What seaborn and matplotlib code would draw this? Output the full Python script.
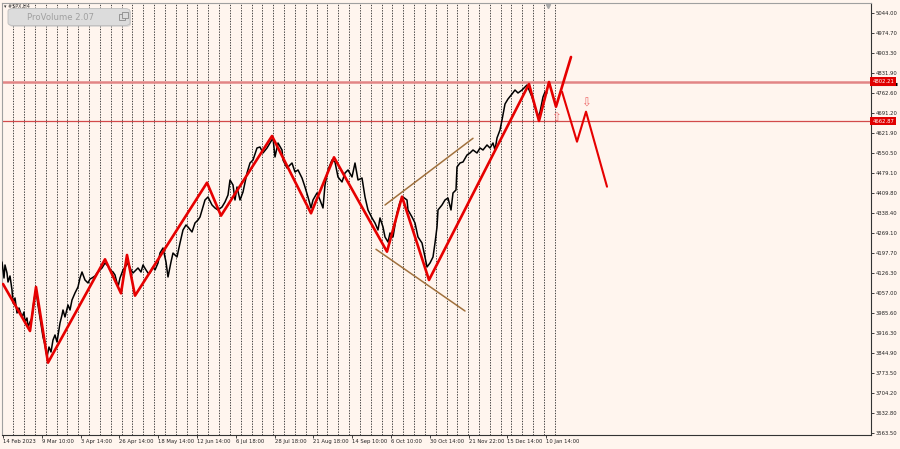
import numpy as np
import pandas as pd
import seaborn as sns
import matplotlib.pyplot as plt
from matplotlib.patches import FancyBboxPatch, Rectangle

# -------------------------
# Data read off the #SPX H4 chart
# -------------------------

# price path: bar number (from 14 Feb 2023) and close
bar_idx = [-1, 1, 2, 4, 5, 7, 9, 10, 12, 14, 16, 19, 21, 22, 24, 25, 27, 29, 31, 33,
           35, 37, 40, 42, 44, 46, 48, 50, 52, 54, 57, 59, 60, 62, 65, 67, 69, 72, 75, 77,
           79, 82, 85, 87, 89, 92, 94, 97, 99, 102, 105, 107, 110, 112, 115, 117, 120, 123, 125, 128,
           130, 133, 135, 138, 140, 143, 145, 147, 150, 152, 155, 157, 160, 163, 165, 168, 170, 174, 177, 180,
           183, 185, 189, 192, 195, 197, 200, 202, 205, 209, 212, 215, 219, 222, 225, 227, 230, 232, 234, 237,
           240, 244, 247, 250, 254, 257, 260, 264, 267, 270, 272, 275, 279, 280, 284, 289, 292, 295, 299, 302,
           305, 308, 310, 314, 317, 320, 322, 325, 329, 332, 335, 339, 342, 345, 349, 352, 355, 359, 362, 365,
           369, 372, 375, 377, 380, 382, 385, 387, 390, 394, 397, 400, 404, 405, 409, 412, 415, 419, 422, 424,
           427, 430, 432, 434, 435, 439, 442, 445, 448, 450, 453, 454, 457, 460, 464, 467, 470, 474, 477, 480,
           484, 487, 490, 492, 494, 497, 499, 502, 505, 509, 512, 515, 519, 524, 529, 532, 535, 537, 540, 542,
           544]
close_px = [4166.3, 4109.8, 4155.7, 4127.5, 4095.7, 4116.9, 4067.6, 4021.7, 4039.4, 3986.5,
            4004.1, 3972.4, 3990.0, 3954.8, 3968.9, 3937.1, 3954.8, 3968.9, 4032.3, 4067.6,
            4014.7, 3968.9, 3901.9, 3873.7, 3831.4, 3866.6, 3849.0, 3891.3, 3909.0, 3884.3,
            3951.2, 3979.4, 3997.1, 3972.4, 4014.7, 3997.1, 4032.3, 4057.0, 4078.1, 4109.8,
            4131.0, 4102.8, 4092.2, 4106.3, 4109.8, 4116.9, 4127.5, 4138.1, 4145.1, 4162.7,
            4152.2, 4138.1, 4131.0, 4120.4, 4078.1, 4109.8, 4138.1, 4152.2, 4162.7, 4138.1,
            4127.5, 4138.1, 4145.1, 4131.0, 4155.7, 4138.1, 4127.5, 4127.5, 4148.6, 4138.1,
            4162.7, 4197.8, 4215.6, 4166.3, 4113.4, 4166.3, 4197.8, 4183.9, 4233.2, 4279.1,
            4296.7, 4289.6, 4272.0, 4303.7, 4314.3, 4324.9, 4360.1, 4384.8, 4395.4, 4367.2,
            4356.6, 4349.6, 4360.1, 4377.8, 4402.4, 4455.3, 4437.7, 4384.8, 4430.6, 4384.8,
            4413.0, 4480.0, 4515.2, 4525.8, 4568.1, 4571.6, 4550.5, 4568.1, 4585.7, 4603.4,
            4536.4, 4585.7, 4561.1, 4525.8, 4497.6, 4515.2, 4483.5, 4490.6, 4462.3, 4430.6,
            4395.4, 4356.6, 4384.8, 4409.5, 4384.8, 4356.6, 4437.7, 4490.6, 4525.8, 4518.8,
            4465.9, 4448.3, 4480.0, 4490.6, 4465.9, 4515.2, 4455.3, 4462.3, 4395.4, 4349.6,
            4321.4, 4303.7, 4279.1, 4321.4, 4289.6, 4254.4, 4236.7, 4268.5, 4254.4, 4339.0,
            4377.8, 4395.4, 4384.8, 4349.6, 4324.9, 4303.7, 4254.4, 4233.2, 4183.9, 4148.6,
            4162.7, 4183.9, 4233.2, 4289.6, 4349.6, 4367.2, 4384.8, 4391.8, 4349.6, 4409.5,
            4420.1, 4501.1, 4515.2, 4518.8, 4543.4, 4550.5, 4561.1, 4550.5, 4568.1, 4561.1,
            4578.7, 4568.1, 4585.7, 4561.1, 4603.4, 4631.6, 4666.8, 4723.2, 4740.8, 4758.4,
            4772.5, 4762.0, 4772.5, 4790.2, 4747.9, 4712.6, 4677.4, 4695.0, 4747.9, 4765.5,
            4762.0]

# zigzag waves
zz_bar = [0, 27, 33, 45, 102, 118, 124, 132, 204, 218, 269, 308, 331, 384, 399, 426,
          526, 536, 546, 553, 568]
zz_price = [4088.7, 3923.0, 4078.1, 3811.3, 4175.8, 4055.9, 4191.0, 4047.5, 4445.8, 4329.5,
            4610.4, 4337.9, 4535.3, 4202.6, 4396.4, 4102.8, 4793.7, 4663.3, 4800.7, 4713.7,
            4888.9]

# forecast path
fc_bar = [559, 574, 583, 604]
fc_price = [4766.6, 4590.3, 4696.1, 4431.7]

# channel lines
chan_up_bar = [382, 470]
chan_up_price = [4367.2, 4602.3]
chan_dn_bar = [373, 462]
chan_dn_price = [4211.0, 3993.5]

# horizontal levels
level_hi = 4802.21
level_lo = 4662.87
bid_price = 4794.5

# signal arrows
sig_up = (553, 4676.0)
sig_dn = (583, 4726.7)
last_bar = 545

price_ticks = [5044.00, 4974.70, 4903.30, 4831.90, 4762.60, 4691.20, 4621.90, 4550.50,
               4479.10, 4409.80, 4338.40, 4269.10, 4197.70, 4126.30, 4057.00, 3985.60,
               3916.30, 3844.90, 3773.50, 3704.20, 3632.80, 3563.50]
date_ticks = [0, 39, 78, 116, 155, 194, 233, 272, 310, 349, 388, 427, 466, 504, 543]
date_labels = ['14 Feb 2023', '9 Mar 10:00', '3 Apr 14:00', '26 Apr 14:00', '18 May 14:00',
               '12 Jun 14:00', '6 Jul 18:00', '28 Jul 18:00', '21 Aug 18:00', '14 Sep 10:00',
               '6 Oct 10:00', '30 Oct 14:00', '21 Nov 22:00', '15 Dec 14:00', '10 Jan 14:00']

price_df = pd.DataFrame({'bar': bar_idx, 'close': close_px})
zz_df = pd.DataFrame({'bar': zz_bar, 'price': zz_price})
fc_df = pd.DataFrame({'bar': fc_bar, 'price': fc_price})

# -------------------------
# Figure
# -------------------------
bg = '#FFF5EE'
sns.set_theme(style='white', rc={'axes.facecolor': bg, 'figure.facecolor': bg})
plt.rcParams['font.family'] = ['DejaVu Sans']

fig = plt.figure(figsize=(9, 4.49), dpi=100)
ax = fig.add_axes([2 / 900, 14 / 449, 869 / 900, 432 / 449])

# vertical dotted grid
for gx in np.arange(10.3, 553, 10.83):
    ax.axvline(gx, color='#222222', lw=0.6, ls=(0, (1.6, 1.6)), zorder=1)

ax.axhline(level_hi, color='#E28585', lw=1.8, zorder=2)
ax.axhline(level_lo, color='#D24A4A', lw=0.9, zorder=2)

sns.lineplot(data=price_df, x='bar', y='close', ax=ax, color='black', lw=1.1,
             sort=False, estimator=None, zorder=3)
ax.plot(chan_up_bar, chan_up_price, color='#A0703C', lw=1.1, zorder=4)
ax.plot(chan_dn_bar, chan_dn_price, color='#A0703C', lw=1.1, zorder=4)
sns.lineplot(data=zz_df, x='bar', y='price', ax=ax, color='#E60000', lw=1.9,
             sort=False, estimator=None, zorder=5)
sns.lineplot(data=fc_df, x='bar', y='price', ax=ax, color='#E60000', lw=1.5,
             sort=False, estimator=None, zorder=5)

ax.text(sig_up[0], sig_up[1], '\u21e7', color='#EE6A6A', fontsize=8.5,
        ha='center', va='center', zorder=6)
ax.text(sig_dn[0], sig_dn[1], '\u21e9', color='#EE6A6A', fontsize=8.5,
        ha='center', va='center', zorder=6)
ax.plot([last_bar], [0.993], marker='v', color='#A8A8A8', ms=3,
        transform=ax.get_xaxis_transform(), clip_on=False, zorder=6)

ax.set_xlim(-1, 868)
ax.set_ylim(3556.4, 5079.2)
ax.set_xlabel('')
ax.set_ylabel('')

ax.yaxis.tick_right()
ax.set_yticks(price_ticks)
ax.set_yticklabels([f'{p:.2f}' for p in price_ticks])
ax.set_xticks(date_ticks)
ax.set_xticklabels(date_labels, ha='left')
ax.tick_params(axis='y', direction='out', length=2.5, width=0.6, pad=1,
               labelsize=3.8, colors='#222222', right=True, left=False)
ax.tick_params(axis='x', direction='out', length=2, width=0.6, pad=0.8,
               labelsize=3.8, colors='#222222', bottom=True)

for side in ['top', 'left']:
    ax.spines[side].set_color('#A0A0A0')
    ax.spines[side].set_linewidth(0.8)
for side in ['right', 'bottom']:
    ax.spines[side].set_color('#333333')
    ax.spines[side].set_linewidth(0.8)

# price labels on the scale (black bid strip peeking below the red level tag)
ytr = ax.get_yaxis_transform()
ax.plot([1.0, 1.03], [bid_price, bid_price], transform=ytr, color='black', lw=2.2,
        solid_capstyle='butt', clip_on=False, zorder=7)
ax.text(1.0015, level_hi, f'{level_hi:.2f}', transform=ytr, fontsize=3.8, color='white',
        ha='left', va='center', clip_on=False, zorder=8,
        bbox=dict(boxstyle='square,pad=0.35', fc='#E00000', ec='none'))
ax.text(1.0015, level_lo, f'{level_lo:.2f}', transform=ytr, fontsize=3.8, color='white',
        ha='left', va='center', clip_on=False, zorder=8,
        bbox=dict(boxstyle='square,pad=0.35', fc='#E00000', ec='none'))

# symbol name and indicator button
fig.text(4 / 900, 1 - 6.5 / 449, '\u25be #SPX,H4', fontsize=3.5, color='#333333',
         ha='left', va='center')
shadow = FancyBboxPatch((9 / 900, 1 - 27 / 449), 122 / 900, 17 / 449,
                        boxstyle='round,pad=0,rounding_size=0.006',
                        transform=fig.transFigure, fc='#C8C8C8', ec='none', alpha=0.6)
button = FancyBboxPatch((8 / 900, 1 - 25.5 / 449), 122 / 900, 17 / 449,
                        boxstyle='round,pad=0,rounding_size=0.006',
                        transform=fig.transFigure, fc='#DCDCDC', ec='#BDBDBD', lw=0.6)
fig.patches.extend([shadow, button])
fig.text(27 / 900, 1 - 17 / 449, 'ProVolume 2.07', fontsize=6.1, color='#A0A0A0',
         ha='left', va='center')
fig.patches.append(Rectangle((119 / 900, 1 - 20 / 449), 6 / 900, 6 / 449,
                             transform=fig.transFigure, fc='none', ec='#8A8A8A', lw=0.6))
fig.patches.append(Rectangle((121.5 / 900, 1 - 17.5 / 449), 6 / 900, 6 / 449,
                             transform=fig.transFigure, fc='#DCDCDC', ec='#8A8A8A', lw=0.6))

fig.savefig('out.png', dpi=100, facecolor=bg)
